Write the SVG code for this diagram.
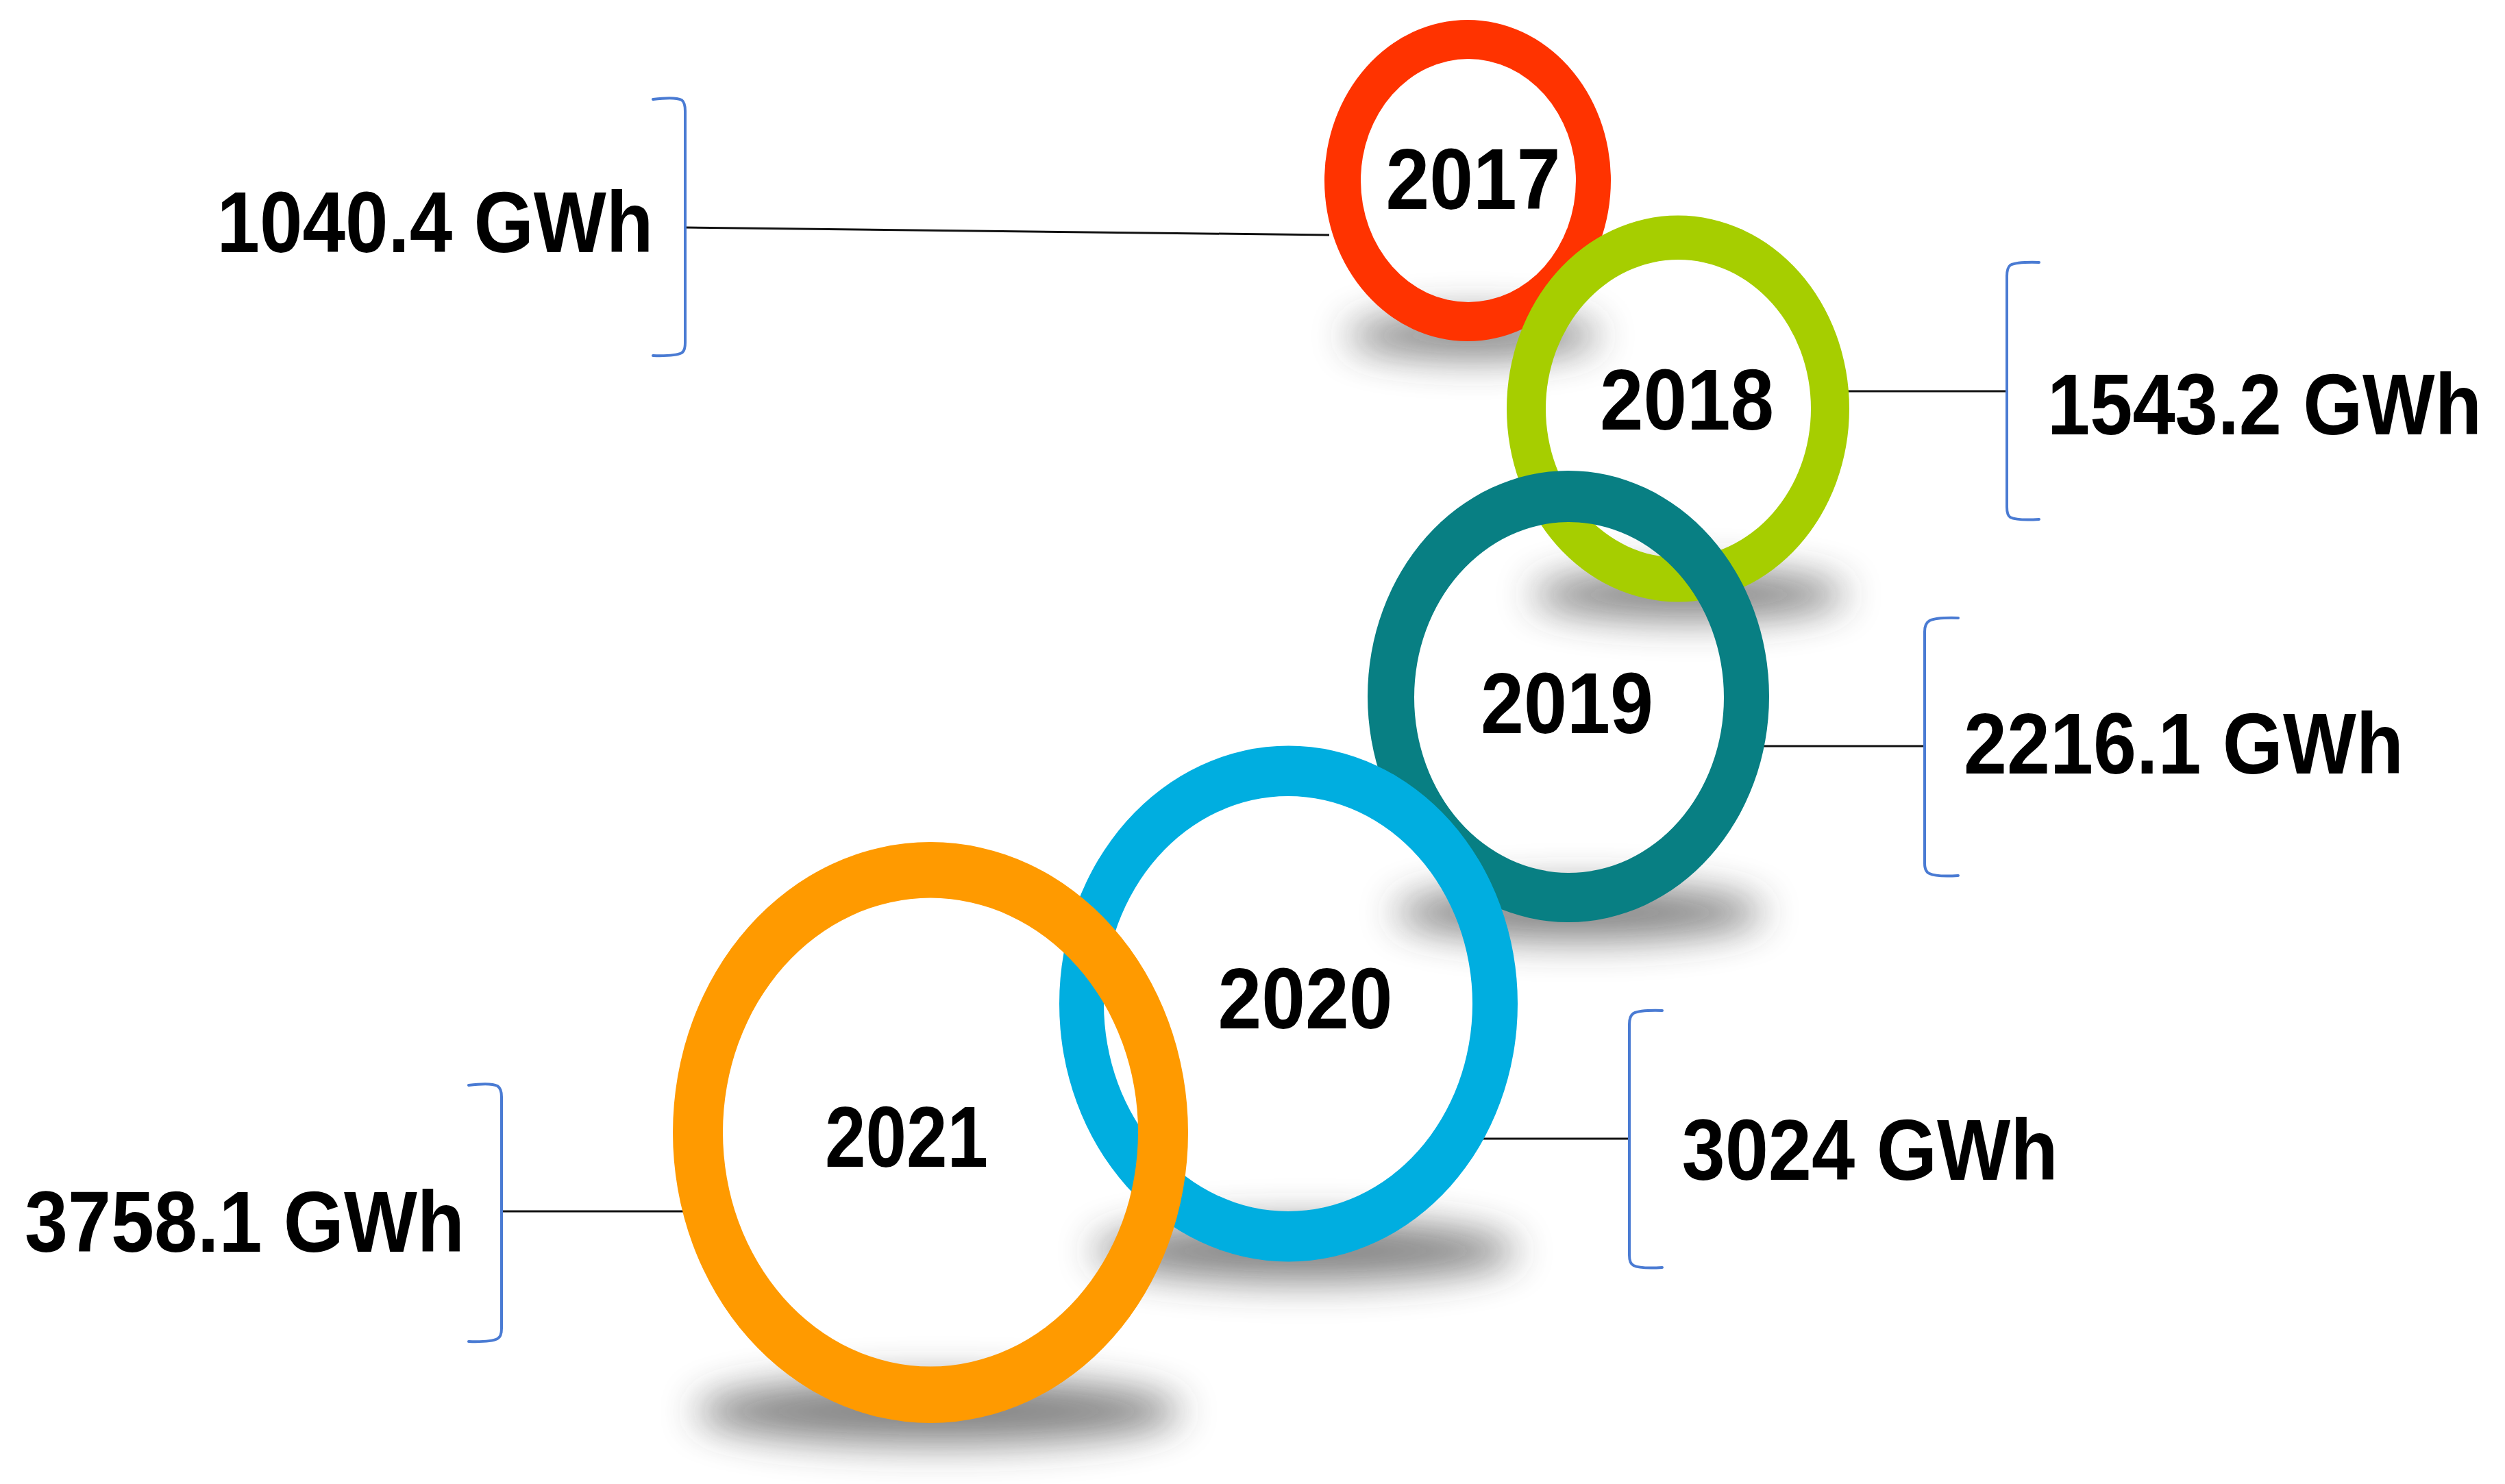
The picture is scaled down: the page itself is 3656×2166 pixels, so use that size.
<svg xmlns="http://www.w3.org/2000/svg" width="3656" height="2166" viewBox="0 0 3656 2166">
<style>
.lbl{font-family:"Liberation Sans",Arial,sans-serif;font-weight:bold;font-size:127px;fill:#000;text-anchor:middle}
.conn{stroke:#111;stroke-width:3;fill:none}
.brk{stroke:#4a7bd3;stroke-width:4;fill:none;stroke-linecap:round}
.shadow{fill:#333;opacity:0.6}
</style>
<defs>
<filter id="blur" x="-50%" y="-300%" width="200%" height="700%">
<feGaussianBlur stdDeviation="28"/>
</filter>
</defs>
<rect width="3656" height="2166" fill="#fff"/>
<g id="connectors">
<line class="conn" x1="1000" y1="332" x2="1940" y2="343"/>
<line class="conn" x1="2690" y1="571" x2="2929" y2="571"/>
<line class="conn" x1="2570" y1="1089" x2="2809" y2="1089"/>
<line class="conn" x1="2140" y1="1662" x2="2378" y2="1662"/>
<line class="conn" x1="732" y1="1768" x2="1020" y2="1768"/>
</g>
<g id="node-2017">
<ellipse class="shadow" cx="2150" cy="490" rx="185" ry="32" filter="url(#blur)"/>
<path fill="#ff3300" fill-rule="evenodd" d="M1933,263.5a209,234.5 0 1,0 418,0a209,234.5 0 1,0 -418,0Z M1986,263.5a157,177.5 0 1,0 314,0a157,177.5 0 1,0 -314,0Z"/>
<text class="lbl" x="2150" y="305" textLength="255" lengthAdjust="spacingAndGlyphs">2017</text>
</g>
<g id="node-2018">
<ellipse class="shadow" cx="2465" cy="868" rx="230" ry="36" filter="url(#blur)"/>
<path fill="#a6ce00" fill-rule="evenodd" d="M2199,596.5a250,282 0 1,0 500,0a250,282 0 1,0 -500,0Z M2256,596.5a193.5,217.5 0 1,0 387,0a193.5,217.5 0 1,0 -387,0Z"/>
<text class="lbl" x="2462" y="627" textLength="254" lengthAdjust="spacingAndGlyphs">2018</text>
</g>
<g id="node-2019">
<ellipse class="shadow" cx="2305" cy="1332" rx="270" ry="40" filter="url(#blur)"/>
<path fill="#087f83" fill-rule="evenodd" d="M1996,1016.5a293,329.5 0 1,0 586,0a293,329.5 0 1,0 -586,0Z M2064,1018a226,256 0 1,0 452,0a226,256 0 1,0 -452,0Z"/>
<text class="lbl" x="2287" y="1070" textLength="252" lengthAdjust="spacingAndGlyphs">2019</text>
</g>
<g id="node-2020">
<ellipse class="shadow" cx="1905" cy="1826" rx="310" ry="44" filter="url(#blur)"/>
<path fill="#00aee0" fill-rule="evenodd" d="M1546,1465a334.5,376.5 0 1,0 669,0a334.5,376.5 0 1,0 -669,0Z M1611,1465a269,303 0 1,0 538,0a269,303 0 1,0 -538,0Z"/>
<text class="lbl" x="1905" y="1501" textLength="255" lengthAdjust="spacingAndGlyphs">2020</text>
</g>
<g id="node-2021">
<ellipse class="shadow" cx="1370" cy="2060" rx="355" ry="48" filter="url(#blur)"/>
<path fill="#ff9a00" fill-rule="evenodd" d="M982,1653a376,424 0 1,0 752,0a376,424 0 1,0 -752,0Z M1055,1652.6a303,342 0 1,0 606,0a303,342 0 1,0 -606,0Z"/>
<text class="lbl" x="1323" y="1703" textLength="238" lengthAdjust="spacingAndGlyphs">2021</text>
</g>
<g id="label-2017">
<path class="brk" d="M953,145Q985,141 995,146Q1000,150 1000,162L1000,500Q1000,512 995,515Q985,520 953,519"/>
<text class="lbl" x="635" y="368" textLength="637" lengthAdjust="spacingAndGlyphs">1040.4 GWh</text>
</g>
<g id="label-2018">
<path class="brk" d="M2976,383Q2944,382 2934,387Q2929,391 2929,403L2929,740Q2929,752 2934,755Q2944,760 2976,758"/>
<text class="lbl" x="3305" y="634" textLength="634" lengthAdjust="spacingAndGlyphs">1543.2 GWh</text>
</g>
<g id="label-2019">
<path class="brk" d="M2858,902Q2826,901 2816,906Q2809,910 2809,922L2809,1260Q2809,1272 2816,1275Q2826,1280 2858,1278"/>
<text class="lbl" x="3187" y="1129" textLength="642" lengthAdjust="spacingAndGlyphs">2216.1 GWh</text>
</g>
<g id="label-2020">
<path class="brk" d="M2426,1475Q2394,1474 2384,1479Q2378,1483 2378,1495L2378,1832Q2378,1844 2384,1847Q2394,1852 2426,1850"/>
<text class="lbl" x="2729" y="1722" textLength="549" lengthAdjust="spacingAndGlyphs">3024 GWh</text>
</g>
<g id="label-2021">
<path class="brk" d="M684,1584Q716,1580 726,1585Q732,1589 732,1601L732,1939Q732,1951 726,1954Q716,1959 684,1958"/>
<text class="lbl" x="357" y="1827" textLength="642" lengthAdjust="spacingAndGlyphs">3758.1 GWh</text>
</g>
</svg>
